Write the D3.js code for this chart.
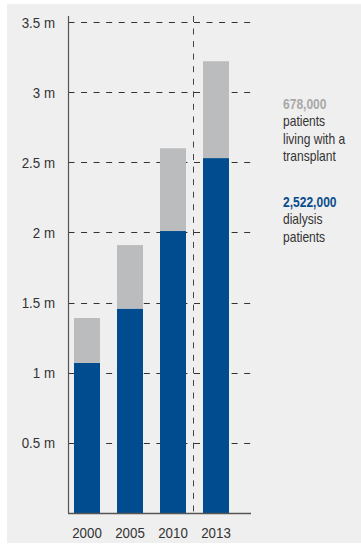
<!DOCTYPE html>
<html>
<head>
<meta charset="utf-8">
<script src="https://cdn.jsdelivr.net/npm/d3@7"></script>
<style>
  html, body { margin: 0; padding: 0; background: #fff; }
  svg { display: block; }
  text { font-family: "Liberation Sans", Arial, sans-serif; }
</style>
</head>
<body>
<div id="chart"></div>
<script>
// data (millions of patients)
const years = ['2000', '2005', '2010', '2013'];
const dialysis = [1.07, 1.457, 2.01, 2.53];
const transplant = [0.32, 0.453, 0.59, 0.69];
const yTicks = [0.5, 1, 1.5, 2, 2.5, 3, 3.5];
const noteTransplant = ['678,000', 'patients', 'living with a', 'transplant'];
const noteDialysis = ['2,522,000', 'dialysis', 'patients'];

const width = 361, height = 547;
const blue = '#004c8f', grey = '#bbbcbe';
const squeeze = 0.86; // narrow the font to look like the condensed original

const svg = d3.select('#chart').append('svg')
  .attr('width', width)
  .attr('height', height);

// background panel
svg.append('rect')
  .attr('x', 7).attr('y', 4)
  .attr('width', width - 7).attr('height', 539)
  .attr('fill', '#efefef');

const axisX = 68.5, gridEnd = 251;
const y = d3.scaleLinear().domain([0, 3.5]).range([513, 22]);
const x = d3.scaleBand()
  .domain(years)
  .range([65.5, 65.5 + 4 * 43])
  .paddingInner(17 / 43)
  .paddingOuter(8.5 / 43);

// dashed gridlines
svg.append('g').selectAll('line')
  .data(yTicks)
  .join('line')
  .attr('x1', axisX).attr('x2', gridEnd)
  .attr('y1', d => Math.round(y(d)) + 0.5)
  .attr('y2', d => Math.round(y(d)) + 0.5)
  .attr('stroke', '#333')
  .attr('stroke-width', 1)
  .attr('stroke-dasharray', '6,6.55');

// vertical dashed separator before 2013
const sepX = x('2013') - 9.5;
svg.append('line')
  .attr('x1', sepX).attr('x2', sepX)
  .attr('y1', 16).attr('y2', y(0))
  .attr('stroke', '#444')
  .attr('stroke-width', 1)
  .attr('stroke-dasharray', '6,6.55');

// stacked bars
const stackData = years.map((yr, i) => ({ year: yr, dialysis: dialysis[i], transplant: transplant[i] }));
const series = d3.stack().keys(['dialysis', 'transplant'])(stackData);
const colors = { dialysis: blue, transplant: grey };

svg.append('g').selectAll('g')
  .data(series)
  .join('g')
  .attr('fill', s => colors[s.key])
  .selectAll('rect')
  .data(s => s)
  .join('rect')
  .attr('x', d => x(d.data.year))
  .attr('width', x.bandwidth())
  .attr('y', d => y(d[1]))
  .attr('height', d => y(d[0]) - y(d[1]));

// axes lines
svg.append('line')
  .attr('x1', axisX).attr('x2', axisX)
  .attr('y1', 16).attr('y2', y(0))
  .attr('stroke', '#555').attr('stroke-width', 1.2);
svg.append('line')
  .attr('x1', axisX - 0.5).attr('x2', gridEnd)
  .attr('y1', y(0) + 0.5).attr('y2', y(0) + 0.5)
  .attr('stroke', '#555').attr('stroke-width', 1.4);

// y tick labels
svg.append('g').selectAll('text')
  .data(yTicks)
  .join('text')
  .attr('transform', d => `translate(55,${y(d) + 5.5}) scale(${squeeze},1)`)
  .attr('text-anchor', 'end')
  .attr('font-size', '15.5px')
  .attr('fill', '#333')
  .text(d => d + ' m');

// x labels
svg.append('g').selectAll('text')
  .data(years)
  .join('text')
  .attr('transform', d => `translate(${x(d) + x.bandwidth() / 2},538) scale(${squeeze},1)`)
  .attr('text-anchor', 'middle')
  .attr('font-size', '15.5px')
  .attr('fill', '#333')
  .text(d => d);

// side notes
function note(lines, top, color) {
  const t = svg.append('text')
    .attr('transform', `translate(283,${top}) scale(${squeeze},1)`)
    .attr('font-size', '14px')
    .attr('fill', '#333');
  lines.forEach((l, i) => {
    t.append('tspan')
      .attr('x', 0)
      .attr('dy', i === 0 ? 0 : 17.5)
      .attr('font-weight', i === 0 ? 'bold' : 'normal')
      .attr('fill', i === 0 ? color : '#333')
      .text(l);
  });
}
note(noteTransplant, 109, '#a8a8a8');
note(noteDialysis, 207, '#0a4d8c');
</script>
</body>
</html>
